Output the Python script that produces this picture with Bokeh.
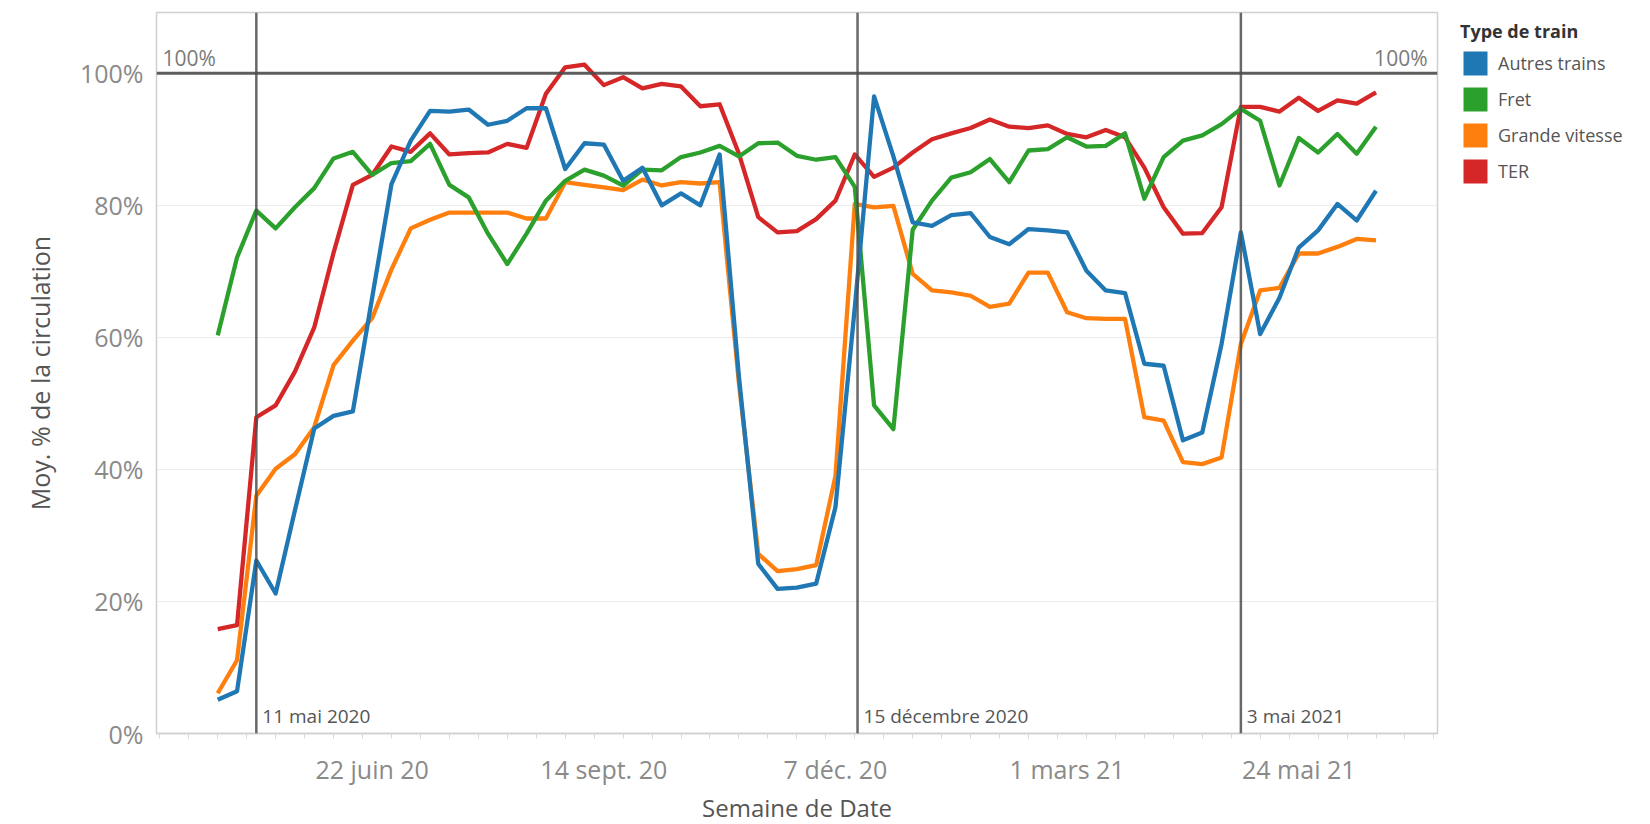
import pandas as pd
from bokeh.plotting import figure
from bokeh.models import (Range1d, FixedTicker, Span, Label, Legend, LegendItem)
from bokeh.embed import file_html
from bokeh.resources import INLINE

# ---------------- data ----------------
weeks = pd.date_range("2020-04-27", periods=61, freq="7D")

autres_trains = [5.1, 6.4, 26.2, 21.2, 33.8, 46.2, 48.1, 48.8, 66.0, 83.2,
                 89.8, 94.3, 94.2, 94.5, 92.2, 92.8, 94.7, 94.7, 85.5, 89.4,
                 89.2, 83.7, 85.7, 80.0, 81.8, 80.0, 87.7, 54.0, 25.7, 21.9,
                 22.1, 22.7, 34.3, 64.5, 96.5, 87.4, 77.4, 76.9, 78.5, 78.8,
                 75.2, 74.1, 76.4, 76.2, 75.9, 70.1, 67.1, 66.7, 56.0, 55.7,
                 44.4, 45.6, 59.0, 75.9, 60.5, 66.0, 73.6, 76.2, 80.2, 77.7,
                 82.2]
fret = [60.3, 72.1, 79.2, 76.5, 79.7, 82.6, 87.1, 88.1, 84.6, 86.4,
        86.7, 89.3, 83.1, 81.2, 75.7, 71.1, 75.7, 80.7, 83.7, 85.4,
        84.5, 83.0, 85.4, 85.3, 87.3, 88.0, 89.0, 87.4, 89.4, 89.5,
        87.5, 86.9, 87.3, 82.8, 49.7, 46.1, 76.3, 80.7, 84.2, 85.0,
        87.0, 83.5, 88.3, 88.5, 90.3, 88.9, 89.0, 90.9, 81.0, 87.3,
        89.8, 90.6, 92.3, 94.6, 92.8, 83.0, 90.2, 88.0, 90.8, 87.8,
        91.9]
grande_vitesse = [6.1, 11.1, 36.0, 40.1, 42.3, 46.4, 55.8, 59.5, 62.9, 70.3,
                  76.5, 77.8, 78.9, 78.9, 78.9, 78.9, 78.0, 78.0, 83.5, 83.1,
                  82.7, 82.3, 83.9, 83.0, 83.5, 83.3, 83.5, 53.0, 27.2, 24.6,
                  24.9, 25.5, 39.0, 80.2, 79.7, 79.9, 69.6, 67.1, 66.8, 66.3,
                  64.6, 65.1, 69.8, 69.8, 63.8, 62.9, 62.8, 62.8, 47.9, 47.4,
                  41.1, 40.8, 41.8, 59.0, 67.1, 67.5, 72.7, 72.7, 73.7, 74.9,
                  74.7]
ter = [15.8, 16.4, 47.9, 49.7, 54.8, 61.5, 72.8, 83.1, 84.6, 88.9,
       88.1, 90.9, 87.7, 87.9, 88.0, 89.3, 88.7, 96.9, 100.9, 101.3,
       98.2, 99.4, 97.7, 98.4, 98.0, 95.0, 95.3, 87.8, 78.2, 75.9,
       76.1, 77.9, 80.7, 87.7, 84.3, 85.7, 88.0, 90.0, 90.9, 91.7,
       93.0, 91.9, 91.7, 92.1, 90.8, 90.3, 91.4, 90.3, 85.7, 79.7,
       75.7, 75.8, 79.7, 94.9, 94.9, 94.2, 96.3, 94.3, 95.9, 95.4,
       97.1]

series_names = ["Autres trains", "Fret", "Grande vitesse", "TER"]
series_values = [autres_trains, fret, grande_vitesse, ter]
series_colors = ["#1f77b4", "#2ca02c", "#ff7f0e", "#d62728"]

ref_dates = ["2020-05-11", "2020-12-15", "2021-05-03"]
ref_labels = ["11 mai 2020", "15 décembre 2020", "3 mai 2021"]
ref_level = 100
ref_level_label = "100%"

tick_dates = ["2020-06-22", "2020-09-14", "2020-12-07", "2021-03-01", "2021-05-24"]
tick_labels = ["22 juin 20", "14 sept. 20", "7 déc. 20", "1 mars 21", "24 mai 21"]
y_ticks = [0, 20, 40, 60, 80, 100]
y_tick_labels = ["0%", "20%", "40%", "60%", "80%", "100%"]

x_start = pd.Timestamp("2020-05-11") - pd.Timedelta(days=36.2)
x_end = pd.Timestamp("2021-05-03") + pd.Timedelta(days=71.3)
minor_anchor = pd.Timestamp("2020-06-29")


def ms(t):
    return int(pd.Timestamp(t).value // 10**6)


FONT = "Open Sans"

p = figure(frame_width=1281, frame_height=721, x_axis_type="datetime",
           output_backend="svg", toolbar_location=None,
           x_range=Range1d(x_start, x_end), y_range=Range1d(0, 109.2),
           min_border_left=156, min_border_top=12, min_border_right=205,
           min_border_bottom=86)
p.background_fill_color = "white"
p.border_fill_color = "white"
p.outline_line_color = "#d0d0d0"
p.outline_line_width = 1.5

# grid
p.xgrid.visible = False
p.ygrid.grid_line_color = "#ececec"
p.ygrid.grid_line_width = 1.2

# y axis
p.yaxis.ticker = FixedTicker(ticks=y_ticks)
p.yaxis.major_label_overrides = {t: l for t, l in zip(y_ticks, y_tick_labels)}
p.yaxis.axis_label = "Moy. % de la circulation"
p.yaxis.major_tick_line_color = None
p.yaxis.minor_tick_line_color = None
p.yaxis.major_tick_out = 0
p.yaxis.major_tick_in = 0
p.yaxis.axis_line_color = "#d0d0d0"
p.yaxis.major_label_standoff = 13
p.yaxis.axis_label_standoff = 20
p.yaxis.major_label_text_font = FONT
p.yaxis.major_label_text_font_size = "25px"
p.yaxis.major_label_text_color = "#8a8a8a"
p.yaxis.axis_label_text_font = FONT
p.yaxis.axis_label_text_font_size = "25px"
p.yaxis.axis_label_text_font_style = "normal"
p.yaxis.axis_label_text_color = "#555555"

# x axis
tick_ms = [ms(d) for d in tick_dates]
minor_ms = []
t = minor_anchor - pd.Timedelta(days=10.5 * 8)
while t <= x_end:
    if t >= x_start:
        minor_ms.append(ms(t))
    t += pd.Timedelta(days=10.5)
p.xaxis.ticker = FixedTicker(ticks=tick_ms, minor_ticks=minor_ms)
p.xaxis.major_label_overrides = {t: l for t, l in zip(tick_ms, tick_labels)}
p.xaxis.axis_label = "Semaine de Date"
p.xaxis.major_tick_line_color = None
p.xaxis.major_tick_out = 0
p.xaxis.major_tick_in = 0
p.xaxis.minor_tick_line_color = "#d8d8d8"
p.xaxis.minor_tick_out = 5
p.xaxis.minor_tick_in = 0
p.xaxis.axis_line_color = "#d0d0d0"
p.xaxis.axis_line_width = 1.5
p.xaxis.major_label_standoff = 13
p.xaxis.axis_label_standoff = 2
p.xaxis.major_label_text_font = FONT
p.xaxis.major_label_text_font_size = "25px"
p.xaxis.major_label_text_color = "#8a8a8a"
p.xaxis.axis_label_text_font = FONT
p.xaxis.axis_label_text_font_size = "24px"
p.xaxis.axis_label_text_font_style = "normal"
p.xaxis.axis_label_text_color = "#555555"

# series lines (blue drawn last, on top)
order = [2, 3, 1, 0]
for i in order:
    p.line(weeks, series_values[i], line_color=series_colors[i],
           line_width=4.3, line_join="round")

# reference lines
p.add_layout(Span(location=ref_level, dimension="width", line_color="#4d4d4d",
                  line_width=3, line_alpha=0.9))
for d, lab in zip(ref_dates, ref_labels):
    p.add_layout(Span(location=ms(d), dimension="height", line_color="#4d4d4d",
                      line_width=2.5, line_alpha=0.85))
    p.add_layout(Label(x=ms(d), y=0, x_offset=6, y_offset=18, text=lab,
                       text_baseline="middle", text_font=FONT,
                       text_font_size="19px", text_color="#555555"))

p.add_layout(Label(x=x_start, y=ref_level, x_offset=6, y_offset=15,
                   text=ref_level_label, text_baseline="middle",
                   text_font=FONT, text_font_size="21px", text_color="#7a7a7a"))
p.add_layout(Label(x=x_end, y=ref_level, x_offset=-10, y_offset=15,
                   text=ref_level_label, text_baseline="middle", text_align="right",
                   text_font=FONT, text_font_size="21px", text_color="#7a7a7a"))

# legend with square swatches (zero-size rects anchored on each series' first point)
items = []
for name, vals, c in zip(series_names, series_values, series_colors):
    r = p.rect(x=[weeks[0]], y=[vals[0]], width=0, height=0,
               fill_color=c, line_color=None)
    items.append(LegendItem(label=name, renderers=[r]))

legend = Legend(items=items, location=(23, 547), title="Type de train",
                title_text_font=FONT, title_text_font_size="18px",
                title_text_font_style="bold", title_text_color="#333333",
                title_standoff=5,
                label_text_font=FONT, label_text_font_size="18px",
                label_text_color="#555555", label_standoff=8,
                glyph_width=30, glyph_height=30, label_height=30,
                spacing=6, padding=0, margin=0,
                border_line_color=None, background_fill_alpha=0)
p.add_layout(legend, "right")

open("out.html", "w").write(file_html(p, INLINE))
